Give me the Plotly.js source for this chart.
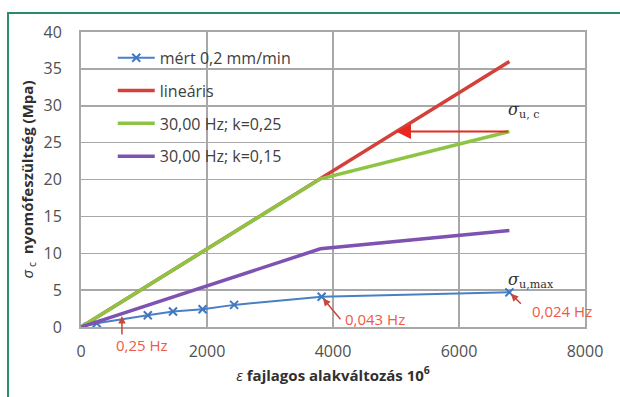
<!DOCTYPE html>
<html>
<head>
<meta charset="utf-8">
<script src="https://cdn.plot.ly/plotly-3.0.1.min.js"></script>
<style>
  html, body { margin: 0; padding: 0; background: #ffffff; }
  #chart { width: 620px; height: 397px; }
</style>
</head>
<body>
<div id="chart"></div>
<script>
// Strain (10^-6) and compressive stress (MPa) series
const measuredStrain = [0, 250, 1060, 1460, 1930, 2430, 3820, 6800];
const measuredStress = [0, 0.5, 1.6, 2.1, 2.4, 3.0, 4.1, 4.7];

const linearStrain = [0, 6800];
const linearStress = [0, 36];

const k025Strain = [0, 3800, 6800];
const k025Stress = [0, 20.1, 26.5];

const k015Strain = [0, 3800, 6800];
const k015Stress = [0, 10.6, 13.1];

const seriesNames = ['mért 0,2 mm/min', 'lineáris', '30,00 Hz; k=0,25', '30,00 Hz; k=0,15'];

const xTicks = [0, 2000, 4000, 6000, 8000];
const yTicks = [0, 5, 10, 15, 20, 25, 30, 35, 40];

// Frequency labels at the measured points
const freqLabels = ['0,25 Hz', '0,043 Hz', '0,024 Hz'];

const FONT = 'Open Sans, Lato, sans-serif';
const NOTE = '#ee5a44';

const traces = [
  {
    x: measuredStrain, y: measuredStress, name: seriesNames[0],
    type: 'scatter', mode: 'lines+markers', legendgroup: 'a',
    line: { color: '#4a7fc4', width: 2 },
    marker: { symbol: 'x-thin', size: 8, line: { color: '#3f78c0', width: 2 } }
  },
  {
    x: linearStrain, y: linearStress, name: seriesNames[1],
    type: 'scatter', mode: 'lines', legendgroup: 'b',
    line: { color: '#d4403a', width: 3.5 }
  },
  {
    x: k025Strain, y: k025Stress, name: seriesNames[2],
    type: 'scatter', mode: 'lines', legendgroup: 'c',
    line: { color: '#8dc443', width: 3.5 }
  },
  {
    x: k015Strain, y: k015Stress, name: seriesNames[3],
    type: 'scatter', mode: 'lines', legendgroup: 'd',
    line: { color: '#7d52b0', width: 3.5 }
  }
];

const arrowColor = '#c8483e';

const annotations = [
  // 0,25 Hz
  { x: 650, y: 1.5, xref: 'x', yref: 'y', text: '', showarrow: true,
    ax: 0, ay: 20, arrowhead: 2, arrowsize: 1, arrowwidth: 1.5, arrowcolor: arrowColor },
  { x: 965, y: -0.062, xref: 'x', yref: 'paper', yanchor: 'middle', text: freqLabels[0], showarrow: false,
    font: { family: FONT, size: 15, color: NOTE } },
  // 0,043 Hz
  { x: measuredStrain[6], y: measuredStress[6], xref: 'x', yref: 'y', text: '', showarrow: true,
    ax: 20, ay: 24, arrowhead: 2, arrowsize: 1, arrowwidth: 1.5, arrowcolor: arrowColor, standoff: 2 },
  { x: 4660, y: 1.05, xref: 'x', yref: 'y', text: freqLabels[1], showarrow: false,
    font: { family: FONT, size: 15, color: NOTE } },
  // 0,024 Hz
  { x: measuredStrain[7], y: measuredStress[7], xref: 'x', yref: 'y', text: '', showarrow: true,
    ax: 13, ay: 13, arrowhead: 2, arrowsize: 1, arrowwidth: 1.5, arrowcolor: arrowColor, standoff: 2 },
  { x: 7640, y: 2.15, xref: 'x', yref: 'y', text: freqLabels[2], showarrow: false,
    font: { family: FONT, size: 15, color: NOTE } },
  // ultimate stress arrow onto the linear line
  { x: 5000, y: k025Stress[2], xref: 'x', yref: 'y', axref: 'x', ayref: 'y',
    ax: 6800, ay: k025Stress[2], text: '', showarrow: true,
    arrowhead: 2, arrowsize: 1.5, arrowwidth: 2, arrowcolor: '#e8281e' },
  // sigma labels
  { x: 6750, y: 29.3, xref: 'x', yref: 'y', xanchor: 'left', text: '<i>σ</i><sub>u, c</sub>', showarrow: false,
    font: { family: 'DejaVu Serif, serif', size: 16, color: '#303030' } },
  { x: 6750, y: 6.3, xref: 'x', yref: 'y', xanchor: 'left', text: '<i>σ</i><sub>u,max</sub>', showarrow: false,
    font: { family: 'DejaVu Serif, serif', size: 16, color: '#303030' } }
];

const layout = {
  width: 620, height: 397,
  margin: { l: 81, r: 35, t: 32, b: 70 },
  paper_bgcolor: '#ffffff',
  plot_bgcolor: '#ffffff',
  font: { family: FONT, color: '#404040' },
  showlegend: true,
  legend: {
    x: 0.063, y: 0.97, xanchor: 'left', yanchor: 'top',
    bgcolor: 'rgba(0,0,0,0)', borderwidth: 0,
    tracegroupgap: 9, itemwidth: 37,
    font: { family: FONT, size: 16, color: '#404040' }
  },
  xaxis: {
    range: [0, 8000], tickvals: xTicks, ticktext: xTicks.map(String),
    showgrid: true, gridcolor: '#a8a8a8', gridwidth: 1.5,
    showline: true, mirror: true, linecolor: '#a8a8a8', linewidth: 2,
    zeroline: false, ticks: '', ticklabelstandoff: 9,
    tickfont: { family: FONT, size: 16, color: '#505050' },
    title: { text: '<i>ε</i> <b>fajlagos alakváltozás 10<sup>6</sup></b>',
             font: { family: FONT, size: 15, color: '#303030' }, standoff: 9 }
  },
  yaxis: {
    range: [0, 40], tickvals: yTicks, ticktext: yTicks.map(String),
    showgrid: true, gridcolor: '#a8a8a8', gridwidth: 1.5,
    showline: true, mirror: true, linecolor: '#a8a8a8', linewidth: 2,
    zeroline: false, ticks: '', ticklabelstandoff: 14,
    tickfont: { family: FONT, size: 16, color: '#505050' },
    title: { text: '<i>σ</i><sub> c</sub>  <b>nyomófeszültség (Mpa)</b>',
             font: { family: FONT, size: 15, color: '#303030' }, standoff: 6 }
  },
  annotations: annotations,
  shapes: [
    { type: 'path', xref: 'paper', yref: 'paper',
      path: 'M -0.1448,-0.3 L -0.1448,1.0644 L 1.1,1.0644',
      line: { color: '#2a8a6c', width: 2 } }
  ]
};

Plotly.newPlot('chart', traces, layout, { staticPlot: true, displayModeBar: false });
</script>
</body>
</html>
